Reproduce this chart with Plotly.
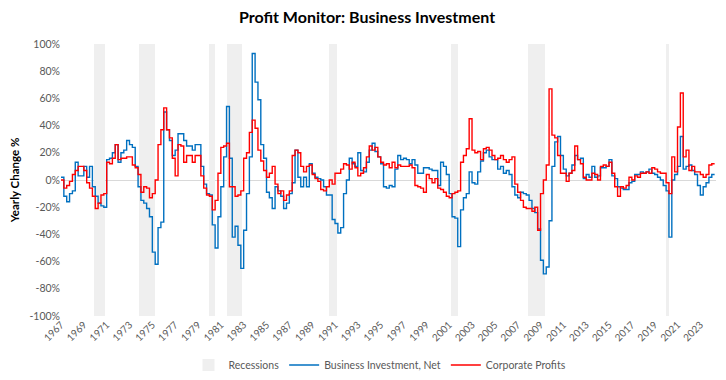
import plotly.graph_objects as go

start_year = 1967  # first quarter 1967Q1, quarterly data

business_investment = [
    2, -12, -16, -10, -8, 13, 3, 3, 10, 2, 10, -5, -12, -17, -19, -20,
    15, 16, 20, 26, 13, 20, 22, 29, 26, 24, 10, -5, -15, -17, -21, -27,
    -53, -62, -35, -31, 50, 37, 29, 18, 22, 34, 34, 29, 25,
    25, 22, 26, 26, 10, -3, -10, -11, -33, -50, -27, -5, 17, 54, 16,
    -42, -34, -48, -65, -37, -10, 17, 93, 72, 59, 26, 16, -9, -13, -21,
    -5, -8, -12, -21, -17, -10, -2, 22, 2, -5, 2, -5, 12, 5, 2, 1,
    0, -5, -11, -11, -29, -32, -39, -35, -10, 0, 16, 12, 10, 20, 7, 6,
    13, 22, 27, 21, 17, 12, -5, -6, -4, -5, 8, 18, 15, 16, 15, 12, 15,
    11, 5, 5, 9, 9, 8, 7, 7, -4, 13, 10, 4, -10,
    -27, -28, -49, -22, -13, -10, 6, -2, -3, 6, 14, 20, 22, 17, 15, 15,
    8, 10, 5, 7, 4, -5, -11, -13, -9, -10, -11, -15, -21, -24, -36, -59,
    -69, -64, -30, 10, 28, 32, 18, 8, 3, 5, 11, 18, 15,
    16, 1, 4, 2, 10, 2, 3, 9, 9, 10, 15, 3, 1, -5, -6, -7, -7, -2, -1,
    4, 4, 6, 5, 6, 8, 5, 4, 2, 0, -4, -8, -42, 0, 4, 10, 32, 8, 10, 11,
    7, 4, -4, -11, -5, -2, 2, 4, 4,
]

corporate_profits = [
    0, -6, -4, -1, 4, 7, 10, 10, 7, -2, -6, -12, -21, -17, -11, -10,
    13, 12, 16, 26, 15, 16, 16, 17, 17, 11, 9, 4, -9, -5, -6, -13,
    -10, 0, 26, 37, 53, 37, 31, 16, 3, 26, 25, 13, 18,
    18, 13, 18, 18, 3, -6, -11, -12, -22, -15, 5, 24, 25, 27, -5,
    -5, -12, -11, -8, 16, 20, 35, 44, 38, 22, 14, 7, 2, 5, 10,
    -3, -10, -8, -15, -11, -8, 18, 22, 20, 10, 6, 10, 11, 4, 1, -1,
    -7, -8, -5, 0, -3, 5, 5, 8, 12, 11, 8, 13, 9, 3, 5, 9,
    17, 25, 22, 24, 17, 13, 11, 12, 9, 13, 9, 11, 10, 10, 10, 11, 9,
    -4, -5, -6, -9, 4, 1, -2, 1, -6, -7, -9, -12, -13,
    -10, -9, -8, 13, 18, 23, 45, 22, 20, 21, 15, 23, 24, 22, 18, 15,
    16, 18, 15, 13, 15, 17, -3, -9, -15, -20, -21, -21, -23, -20, -37, -10,
    0, 11, 67, 33, 31, 18, 5, 5, -1, 5, 7, 25, 15,
    12, 2, 0, 0, 5, 4, 0, 10, 11, 10, 13, 5, -5, -12, -5, -6, -4, 2, 0,
    3, 2, 5, 5, 6, 5, 9, 8, 6, 5, 5, -2, -10, 17, 6, 39, 64, 17, 22, 7,
    10, 6, 6, 4, 2, 4, 11, 12, 12,
]

recession_start = [1969.92, 1973.87, 1980.0, 1981.55, 1990.5, 2001.17, 2007.92, 2020.0]
recession_end = [1970.88, 1975.2, 1980.52, 1982.88, 1991.2, 2001.8, 2009.4, 2020.25]

tick_years = list(range(1967, 2024, 2))
y_ticks = list(range(-100, 101, 20))
y_tick_labels = [f"{v}%" for v in y_ticks]

quarters_bi = [start_year + i / 4 for i in range(len(business_investment))]
quarters_cp = [start_year + i / 4 for i in range(len(corporate_profits))]

rec_mid = [(s + e) / 2 for s, e in zip(recession_start, recession_end)]
rec_width = [e - s for s, e in zip(recession_start, recession_end)]

FONT = "Lato, 'Open Sans', sans-serif"
GREY = "#595959"

# page has an 8px body margin; figure is sized so the whole page is 726x380
W, H = 718, 372

fig = go.Figure()
fig.add_trace(go.Bar(
    x=rec_mid, y=[200] * len(rec_mid), base=-100, width=rec_width,
    marker=dict(color="#efefef", line=dict(width=0)),
    name="Recessions", hoverinfo="skip",
))
fig.add_trace(go.Scatter(
    x=quarters_bi, y=business_investment, mode="lines", line_shape="hv",
    line=dict(color="#0070C0", width=1.4), name="Business Investment, Net",
))
fig.add_trace(go.Scatter(
    x=quarters_cp, y=corporate_profits, mode="lines", line_shape="hv",
    line=dict(color="#FF0000", width=1.4), name="Corporate Profits",
))

fig.update_layout(
    width=W, height=H,
    margin=dict(l=53, r=10, t=36, b=64, autoexpand=False),
    paper_bgcolor="white", plot_bgcolor="white",
    font=dict(family=FONT, size=11, color=GREY),
    title=dict(text="<b>Profit Monitor: Business Investment</b>", x=0.5, xanchor="center",
               y=1 - 9 / H, yanchor="middle",
               font=dict(family=FONT, size=16, color="#000000")),
    showlegend=True,
    legend=dict(orientation="h", x=0.487, xanchor="center", y=-0.18, yanchor="middle",
                font=dict(size=10.5, color=GREY), bgcolor="rgba(0,0,0,0)"),
    bargap=0,
)
fig.update_xaxes(
    range=[1967.0, 2024.37], tickmode="array", tickvals=tick_years,
    ticktext=[str(y) for y in tick_years], tickangle=-45,
    tickfont=dict(size=10, color=GREY), showgrid=False, zeroline=False,
    showline=False, ticks="", automargin=False,
)
fig.update_yaxes(
    range=[-100, 100], tickmode="array", tickvals=y_ticks, ticktext=y_tick_labels,
    tickfont=dict(size=10.5, color=GREY), showgrid=False,
    zeroline=True, zerolinecolor="#d9d9d9", zerolinewidth=1,
    showline=False, ticks="", automargin=False,
    title=dict(text="<b>Yearly Change %</b>", font=dict(size=11.5, color="#000000"), standoff=12),
)

fig.write_html("out.html")
